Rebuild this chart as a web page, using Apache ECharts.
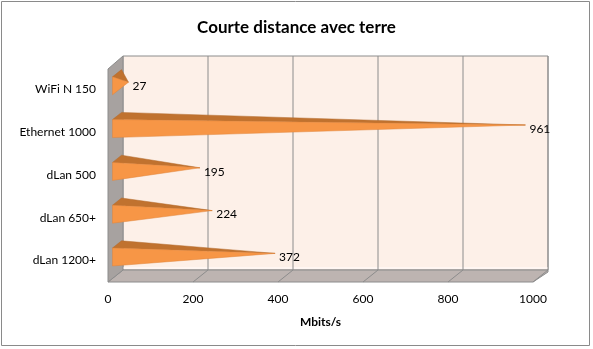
<!DOCTYPE html>
<html>
<head>
<meta charset="utf-8">
<script src="https://cdn.jsdelivr.net/npm/echarts@6/dist/echarts.min.js"></script>
<style>html,body{margin:0;padding:0;background:#fff}#c{width:593px;height:349px}</style>
</head>
<body>
<div id="c"></div>
<script>
const titleText = 'Courte distance avec terre';
const categories = ['WiFi N 150', 'Ethernet 1000', 'dLan 500', 'dLan 650+', 'dLan 1200+'];
const values = [27, 961, 195, 224, 372];
const xTicks = [0, 200, 400, 600, 800, 1000];
const axisName = 'Mbits/s';

const D = [15, -12]; // depth offset (front -> back)
const FONT = 'Lato';

const chart = echarts.init(document.getElementById('c'), null, {renderer: 'canvas'});

function renderWalls(params, api) {
  const cs = params.coordSys;
  const L = cs.x, R = cs.x + cs.width, T = cs.y, B = cs.y + cs.height;
  const children = [];
  // back wall
  children.push({type: 'polygon', shape: {points: [[L + D[0], T + D[1]], [R + D[0], T + D[1]], [R + D[0], B + D[1]], [L + D[0], B + D[1]]]},
    style: {fill: '#fdf0e8', stroke: '#8c8c8c', lineWidth: 1}});
  // lighter band at bottom of back wall
  children.push({type: 'line', shape: {x1: L + D[0], y1: B + D[1] - 2, x2: R + D[0], y2: B + D[1] - 2}, style: {stroke: '#fff6f2', lineWidth: 2}});
  // floor
  children.push({type: 'polygon', shape: {points: [[L + D[0], B + D[1]], [R + D[0], B + D[1]], [R + D[0], B + D[1] + 2], [R, B], [L, B]]},
    style: {fill: '#bdb4b1', stroke: '#8c8c8c', lineWidth: 1}});
  // gridlines on back wall & floor
  xTicks.forEach(t => {
    const x = api.coord([t, 0])[0];
    if (t > 0) {
      children.push({type: 'line', shape: {x1: x + D[0], y1: T + D[1], x2: x + D[0], y2: B + D[1]}, style: {stroke: '#8c8c8c', lineWidth: 1}});
      children.push({type: 'line', shape: {x1: x + D[0], y1: B + D[1], x2: x, y2: B}, style: {stroke: '#8c8c8c', lineWidth: 1}});
    }
  });
  // left wall
  children.push({type: 'polygon', shape: {points: [[L, T + 1], [L + D[0], T + D[1]], [L + D[0], B + D[1]], [L, B]]},
    style: {fill: '#a7a2a0', stroke: '#8c8c8c', lineWidth: 1}});
  return {type: 'group', children: children};
}

function renderBar(params, api) {
  const val = api.value(0);
  const cat = api.value(1);
  const p0 = api.coord([0, cat]);
  const p1 = api.coord([val, cat]);
  const band = api.size([0, 1])[1];
  const h = band * 0.21;
  const ff = 0.3, fb = 0.9, fm = 0.6;
  const ft = [p0[0] + D[0] * ff, p0[1] - h + D[1] * ff];
  const fbt = [p0[0] + D[0] * ff, p0[1] + h + D[1] * ff];
  const bt = [p0[0] + D[0] * fb, p0[1] - h + D[1] * fb];
  const apex = [p1[0] + D[0] * fm, p1[1] + D[1] * fm];
  return {type: 'group', children: [
    {type: 'polygon', shape: {points: [ft, bt, apex]}, style: {fill: '#c0722f', stroke: '#b36a2c', lineWidth: 0.5}},
    {type: 'polygon', shape: {points: [ft, fbt, apex]}, style: {fill: '#f79646', stroke: '#e0843a', lineWidth: 0.5}},
    {type: 'text', style: {text: String(val), x: apex[0] + 4, y: apex[1] + 4, align: 'left', verticalAlign: 'middle',
      font: '12px ' + FONT, fill: '#000'}}
  ]};
}

chart.setOption({
  animation: false,
  backgroundColor: '#fff',
  title: {text: titleText, left: 'center', top: 14,
    textStyle: {fontFamily: FONT, fontWeight: 'bold', fontSize: 17, color: '#000'}},
  grid: {left: 108, right: 60, top: 68, bottom: 67, containLabel: false},
  xAxis: {type: 'value', min: 0, max: 1000, interval: 200,
    axisLine: {show: false}, axisTick: {show: false}, splitLine: {show: false},
    axisLabel: {fontFamily: FONT, fontSize: 12, color: '#000', margin: 11, formatter: v => String(v)},
    name: axisName, nameLocation: 'middle', nameGap: 34,
    nameTextStyle: {fontFamily: FONT, fontWeight: 'bold', fontSize: 12, color: '#000'}},
  yAxis: {type: 'category', data: categories, inverse: true,
    axisLine: {show: false}, axisTick: {show: false}, splitLine: {show: false},
    axisLabel: {fontFamily: FONT, fontSize: 12, color: '#000', margin: 12}},
  graphic: [{type: 'rect', shape: {x: 1.5, y: 1.5, width: 588, height: 344}, style: {fill: 'none', stroke: '#8a8a8a', lineWidth: 1}, z: 100}],
  series: [
    {type: 'custom', name: 'walls', renderItem: renderWalls, data: [[0, 0]], encode: {x: 0, y: 1}, clip: false, z: 1, silent: true},
    {type: 'custom', name: 'bars', renderItem: renderBar, data: values.map((v, i) => [v, i]), encode: {x: 0, y: 1}, clip: false, z: 2}
  ]
});
</script>
</body>
</html>
